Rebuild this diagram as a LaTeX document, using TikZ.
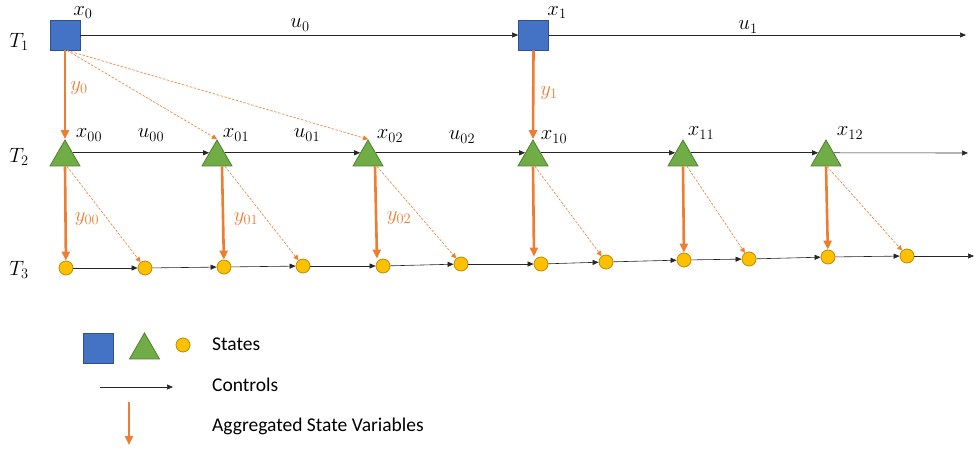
\documentclass[tikz,border=0pt]{standalone}
\usepackage{fontspec}
\newfontfamily\legendfont{Carlito}
\usetikzlibrary{arrows.meta,shapes.geometric}
\definecolor{sqblue}{HTML}{4472C4}
\definecolor{sqblueb}{HTML}{2F528F}
\definecolor{trigreen}{HTML}{70AD47}
\definecolor{trigreenb}{HTML}{507E32}
\definecolor{cyellow}{HTML}{FFC000}
\definecolor{cyellowb}{HTML}{BC8C00}
\definecolor{aggor}{HTML}{ED7D31}
\begin{document}
\begin{tikzpicture}[x=1pt,y=-1pt,
  sq/.style={rectangle, draw=sqblueb, fill=sqblue, minimum size=30pt, inner sep=0pt, line width=0.8pt},
  tri/.style={regular polygon, regular polygon sides=3, minimum size=34.64pt, inner sep=0pt, draw=trigreenb, fill=trigreen, line width=0.8pt},
  st/.style={circle, draw=cyellowb, fill=cyellow, minimum size=14pt, inner sep=0pt, line width=0.8pt},
  ctrl/.style={-{Triangle[length=6pt,width=5pt]}, line width=0.6pt, draw=black!85},
  agg/.style={-{Triangle[length=9pt,width=8pt]}, line width=2.6pt, draw=aggor},
  dsh/.style={-{Triangle[length=5pt,width=5pt]}, line width=0.6pt, draw=aggor, dash pattern=on 2.5pt off 1.5pt},
  lab/.style={font=\fontsize{20.74}{24}\selectfont, inner sep=0pt},
  ylab/.style={lab, text=aggor},
  leg/.style={font=\legendfont\fontsize{19.5}{23}\selectfont, inner sep=0pt, anchor=base west},
]
\useasboundingbox (0,0) rectangle (974,452);

% row labels
\node[lab] (T1) at (19,42) {$T_1$};
\node[lab] (T2) at (19,157) {$T_2$};
\node[lab] (T3) at (19,270) {$T_3$};

% level 1
\node[sq] (x0) at (65,35) {};
\node[sq] (x1) at (533.5,35) {};
\coordinate (e1) at (966,35);

% level 2
\node[tri] (t00) at (65,157.32) {};
\node[tri] (t01) at (217,157.32) {};
\node[tri] (t02) at (368,157.32) {};
\node[tri] (t10) at (533,157.32) {};
\node[tri] (t11) at (683,157.32) {};
\node[tri] (t12) at (826,157.32) {};
\coordinate (e2) at (968,153);

% level 3
\node[st] (c0) at (66,268) {};
\node[st] (c1) at (145,268) {};
\node[st] (c2) at (224,267) {};
\node[st] (c3) at (303,266) {};
\node[st] (c4) at (383,266) {};
\node[st] (c5) at (461,264) {};
\node[st] (c6) at (541,264) {};
\node[st] (c7) at (606,262) {};
\node[st] (c8) at (684,260) {};
\node[st] (c9) at (749,259) {};
\node[st] (c10) at (828,257) {};
\node[st] (c11) at (907,256) {};
\coordinate (e3) at (974,256);

% controls
\draw[ctrl] (x0.east) -- (x1.west);
\draw[ctrl] (x1.east) -- (e1);
\draw[ctrl] (t00.side 3) -- (t01.side 1);
\draw[ctrl] (t01.side 3) -- (t02.side 1);
\draw[ctrl] (t02.side 3) -- (t10.side 1);
\draw[ctrl] (t10.side 3) -- (t11.side 1);
\draw[ctrl] (t11.side 3) -- (t12.side 1);
\draw[ctrl] (t12.side 3) -- (e2);
\foreach \a/\b in {c0/c1,c1/c2,c2/c3,c3/c4,c4/c5,c5/c6,c6/c7,c7/c8,c8/c9,c9/c10,c10/c11}
  \draw[ctrl] (\a) -- (\b);
\draw[ctrl] (c11) -- (e3);

% aggregated state variables
\draw[agg] (x0.south) -- (t00.corner 1);
\draw[agg] (x1.south) -- (t10.corner 1);
\draw[agg] (t00.side 2) -- (c0);
\draw[agg] ([xshift=5pt]t01.side 2) -- (c2);
\draw[agg] ([xshift=7pt]t02.side 2) -- ([xshift=-6pt]c4.north);
\draw[agg] (t10.side 2) -- ([xshift=-7pt]c6.north);
\draw[agg] (t11.side 2) -- (c8);
\draw[agg] (t12.side 2) -- (c10);

% dashed links
\draw[dsh] ([xshift=2pt]x0.south) -- (t01.corner 1);
\draw[dsh] ([xshift=2pt]x0.south) -- (t02.corner 1);
\draw[dsh] ([xshift=2pt]t00.side 2) -- (c1);
\draw[dsh] ([xshift=8pt]t01.side 2) -- (c3);
\draw[dsh] ([xshift=9pt]t02.side 2) -- (c5);
\draw[dsh] ([xshift=2pt]t10.side 2) -- (c7);
\draw[dsh] ([xshift=4pt]t11.side 2) -- (c9);
\draw[dsh] ([xshift=1pt]t12.side 2) -- (c11);

% labels
\node[lab] (lx0) at (83,12.5) {$x_0$};
\node[lab] (lu0) at (300,25) {$u_0$};
\node[lab] (lx1) at (557,12.5) {$x_1$};
\node[lab] (lu1) at (748,27) {$u_1$};
\node[lab] (lx00) at (89,135) {$x_{00}$};
\node[lab] (lu00) at (151,135) {$u_{00}$};
\node[lab] (lx01) at (236,135) {$x_{01}$};
\node[lab] (lu01) at (307,135) {$u_{01}$};
\node[lab] (lx02) at (390,136) {$x_{02}$};
\node[lab] (lu02) at (462,137) {$u_{02}$};
\node[lab] (lx10) at (554,137) {$x_{10}$};
\node[lab] (lx11) at (701,133) {$x_{11}$};
\node[lab] (lx12) at (850,133) {$x_{12}$};
\node[ylab] (ly0) at (79,88) {$y_0$};
\node[ylab] (ly1) at (549,93) {$y_1$};
\node[ylab] (ly00) at (87,219) {$y_{00}$};
\node[ylab] (ly01) at (246,219) {$y_{01}$};
\node[ylab] (ly02) at (399,218) {$y_{02}$};

% legend
\node[sq] (lsq) at (98,348) {};
\node[tri] (ltri) at (144.5,350.3) {};
\node[st] (lcirc) at (183,345) {};
\coordinate (lc1) at (100,387);
\coordinate (lc2) at (173,387);
\draw[ctrl] (lc1) -- (lc2);
\coordinate (la1) at (129,402);
\coordinate (la2) at (129,445);
\draw[agg, line width=2pt] (la1) -- (la2);
\node[leg] (tstates) at (212,350.7) {States};
\node[leg] (tcontrols) at (212,391.7) {Controls};
\node[leg] (tagg) at (212,431.7) {Aggregated State Variables};
\end{tikzpicture}
\end{document}
